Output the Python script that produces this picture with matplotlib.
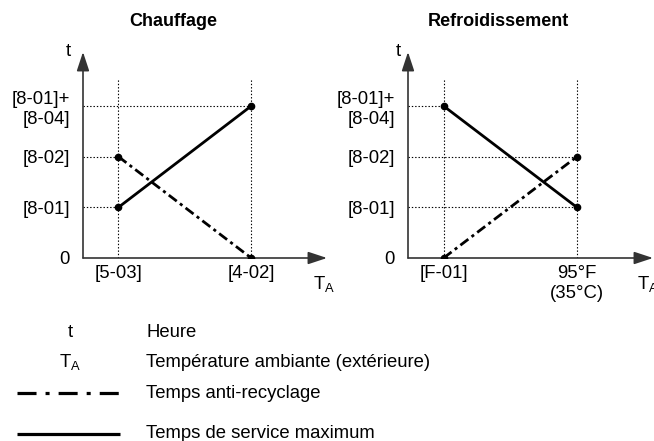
import matplotlib.pyplot as plt
from matplotlib.lines import Line2D

plt.rcParams['font.family'] = ['Liberation Sans', 'DejaVu Sans']
plt.rcParams['mathtext.fontset'] = 'custom'
plt.rcParams['mathtext.rm'] = 'Liberation Sans'
plt.rcParams['lines.scale_dashes'] = False

FS = 13.3

# time levels on the t axis
levels = [0, 1, 2, 3]
level_labels = ['0', '[8-01]', '[8-02]', '[8-01]+\n[8-04]']

# two settings on the T_A axis
x_pos = [1, 2]
heat_xlabels = ['[5-03]', '[4-02]']
cool_xlabels = ['[F-01]', '95°F\n(35°C)']

# heating: service time rises, anti-recycle time falls
heat_service = [1, 3]
heat_antirecycle = [2, 0]
# cooling: the other way round
cool_service = [3, 1]
cool_antirecycle = [0, 2]

legend_symbols = ['t', r'$\mathrm{T}_\mathrm{A}$']
legend_texts = ['Heure', 'Température ambiante (extérieure)',
                'Temps anti-recyclage', 'Temps de service maximum']

dashdot = (0, (7.2, 2.9, 2.2, 2.9))
dashdot_key = (0, (13.7, 6.5, 2.9, 6.5))
dotted = (0, (1.0, 1.4))

fig = plt.figure(figsize=(6.54, 4.41), dpi=100)
ax_heat = fig.add_axes([83/654, 183/441, 244/654, 206/441])
ax_cool = fig.add_axes([408/654, 183/441, 245/654, 206/441])

XLIM = (0.733, 2.571)
YLIM = (0, 4.066)
GUIDE_TOP = 3.53


def draw_panel(ax, title, xlabels, service, antirecycle, t_off, ta_off):
    ax.set_xlim(*XLIM)
    ax.set_ylim(*YLIM)
    for s in ax.spines.values():
        s.set_visible(False)

    # dotted guides
    for x in x_pos:
        ax.plot([x, x], [0, GUIDE_TOP], color='black', lw=0.8, ls=dotted, zorder=1)
    for ys in (service, antirecycle):
        for x, y in zip(x_pos, ys):
            if y > 0:
                ax.plot([XLIM[0], x], [y, y], color='black', lw=0.8, ls=dotted, zorder=1)

    ax.plot(x_pos, service, color='black', lw=2.0, solid_capstyle='butt', zorder=3)
    ax.plot(x_pos, antirecycle, color='black', lw=2.0, ls=dashdot, zorder=3)
    ax.plot(x_pos + x_pos, service + antirecycle, 'o', color='black', ms=4.5, zorder=4)

    # axes with arrow heads
    arrow = dict(arrowstyle='-|>,head_length=1.15,head_width=0.38', color='#333333',
                 lw=1.2, shrinkA=0, shrinkB=0, mutation_scale=10)
    ax.annotate('', xy=(1, 0), xytext=(0, 0), xycoords='axes fraction', arrowprops=arrow)
    ax.annotate('', xy=(0, 1), xytext=(0, 0), xycoords='axes fraction', arrowprops=arrow)

    ax.set_yticks(levels, level_labels, fontsize=FS)
    ax.set_xticks(x_pos, xlabels, fontsize=FS)
    ax.tick_params(axis='both', length=0)
    ax.tick_params(axis='y', pad=9.4)
    ax.tick_params(axis='x', pad=5)

    ax.annotate('t', xy=(0, 1), xycoords='axes fraction', xytext=(t_off, 0),
                textcoords='offset points', ha='center', va='center', fontsize=FS)
    ax.annotate(r'$\mathrm{T}_\mathrm{A}$', xy=(1, 0), xycoords='axes fraction',
                xytext=(ta_off, -18.5), textcoords='offset points',
                ha='left', va='center', fontsize=FS)
    ax.text(0.368, 1.146, title, transform=ax.transAxes, ha='center', va='center',
            fontsize=13, fontweight='bold')


draw_panel(ax_heat, 'Chauffage', heat_xlabels, heat_service, heat_antirecycle, -10.8, -10.0)
draw_panel(ax_cool, 'Refroidissement', cool_xlabels, cool_service, cool_antirecycle, -7.2, -11.5)

# key below the charts
ax_key = fig.add_axes([17/654, 0, 453/654, 123/441])
ax_key.set_xlim(0, 1)
ax_key.set_ylim(0, 1)
ax_key.axis('off')
row_y = [0.886, 0.642, 0.390, 0.057]
for y, sym in zip(row_y[:2], legend_symbols):
    ax_key.text(0.117, y, sym, ha='center', va='center', fontsize=FS)
ax_key.add_line(Line2D([0, 0.227], [row_y[2]] * 2, color='black', lw=2.3,
                       ls=dashdot_key, clip_on=False))
ax_key.add_line(Line2D([0, 0.227], [row_y[3]] * 2, color='black', lw=2.3,
                       solid_capstyle='butt', clip_on=False))
for y, txt in zip(row_y, legend_texts):
    ax_key.text(0.285, y, txt, ha='left', va='center', fontsize=FS)

plt.savefig('out.png', dpi=100)
